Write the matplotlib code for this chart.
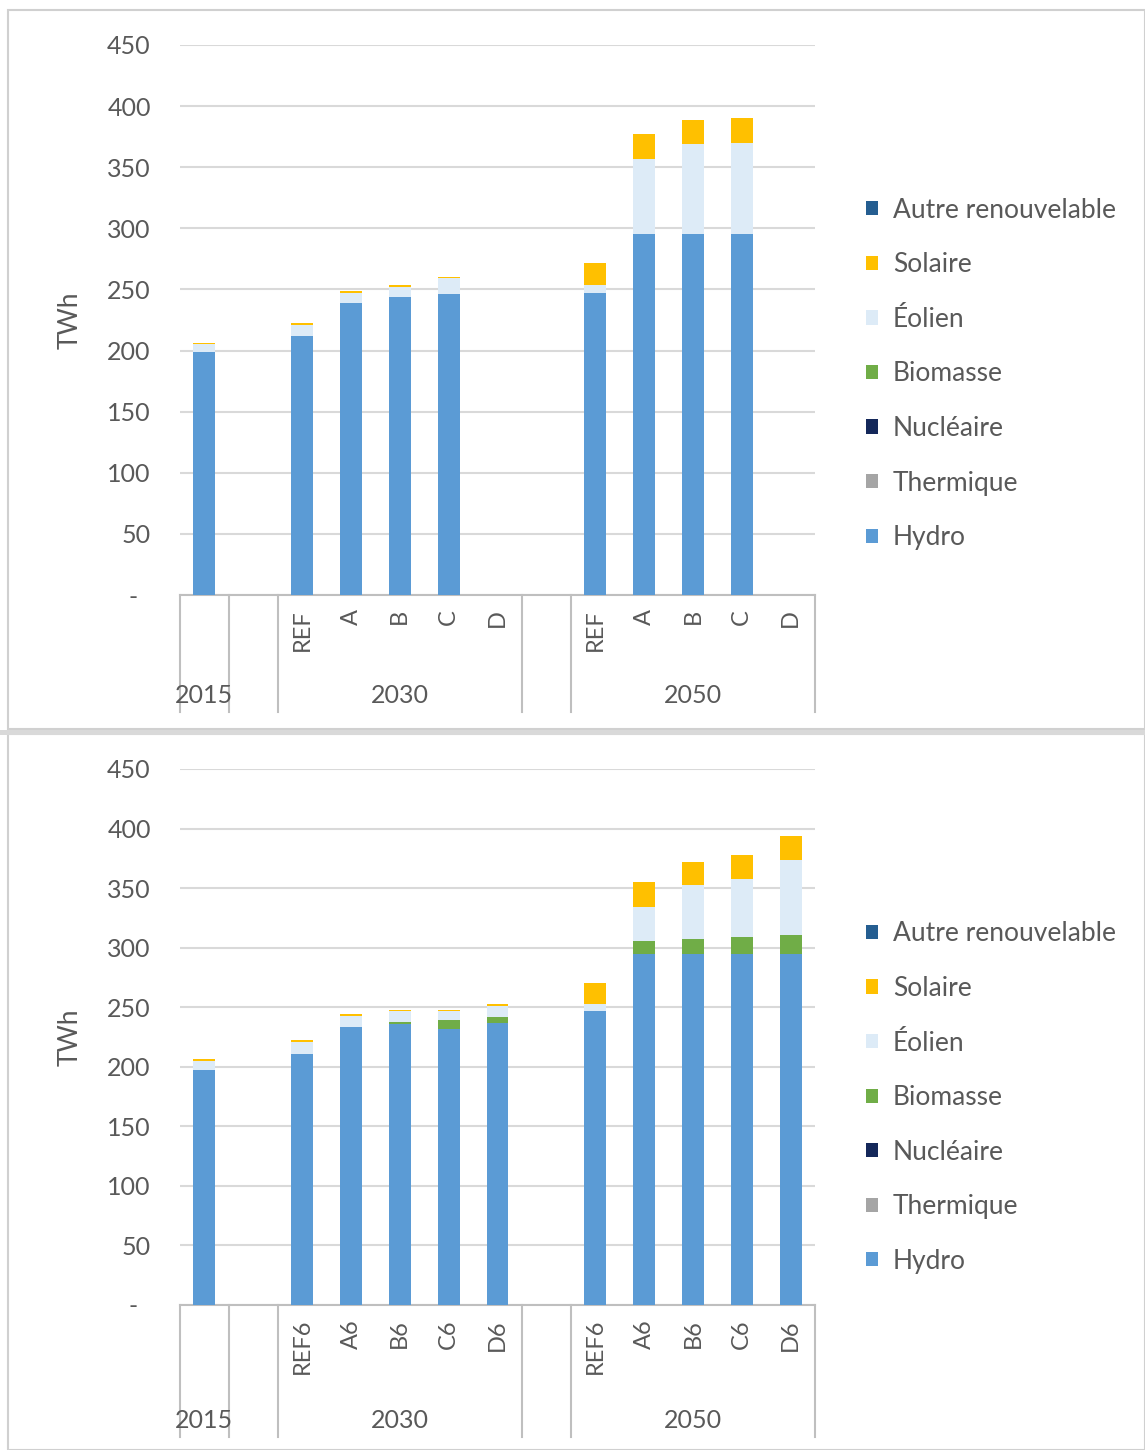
import numpy as np
import matplotlib.pyplot as plt
from matplotlib.transforms import blended_transform_factory
from matplotlib.patches import Rectangle

plt.rcParams["font.family"] = ["Lato", "DejaVu Sans"]

# Slots: 2015, gap, 2030 scenarios, gap, 2050 scenarios
labels_top = ["", "", "REF", "A", "B", "C", "D", "", "REF", "A", "B", "C", "D"]
labels_bot = ["", "", "REF6", "A6", "B6", "C6", "D6", "", "REF6", "A6", "B6", "C6", "D6"]
years = ["2015", "2030", "2050"]

series = ["Hydro", "Thermique", "Nucléaire", "Biomasse", "Éolien", "Solaire", "Autre renouvelable"]
colors = ["#5B9BD5", "#A5A5A5", "#14285A", "#70AD47", "#DDEBF7", "#FFC000", "#255E91"]

# Top chart (TWh)
hydro_top    = [199, 0, 212, 239, 244, 246.5, 0, 0, 247, 295, 295, 295, 0]
thermo_top   = [0] * 13
nucl_top     = [0] * 13
bio_top      = [0] * 13
eolien_top   = [6, 0, 9, 8, 8, 12.5, 0, 0, 7, 62, 74, 75, 0]
solaire_top  = [1.5, 0, 1.5, 2, 1.5, 1.5, 0, 0, 18, 20, 20, 20, 0]
autre_top    = [0] * 13

# Bottom chart (TWh)
hydro_bot    = [197, 0, 211, 233, 236, 231.5, 236.5, 0, 247, 295, 295, 295, 295]
thermo_bot   = [0] * 13
nucl_bot     = [0] * 13
bio_bot      = [0, 0, 0, 0, 1.5, 7.5, 5, 0, 0, 11, 12, 14, 16]
eolien_bot   = [8, 0, 10, 9.5, 9, 7.5, 9.5, 0, 6, 28, 46, 49, 63]
solaire_bot  = [1.5, 0, 1.5, 1.5, 1.5, 1.5, 1.5, 0, 17, 21, 19, 20, 20]
autre_bot    = [0] * 13

top_data = [hydro_top, thermo_top, nucl_top, bio_top, eolien_top, solaire_top, autre_top]
bot_data = [hydro_bot, thermo_bot, nucl_bot, bio_bot, eolien_bot, solaire_bot, autre_bot]

fig = plt.figure(figsize=(11.45, 14.5), dpi=100)
W, H = 1145, 1450

# panel frames
for (y0, y1) in [(10, 729), (734, 1450)]:
    fig.patches.append(Rectangle((8 / W, 1 - y1 / H), (W - 8) / W, (y1 - y0) / H,
                                 transform=fig.transFigure, fill=False,
                                 edgecolor="#D0D0D0", lw=1.5))
fig.patches.append(Rectangle((0, 1 - 735 / H), 1, 5 / H, transform=fig.transFigure,
                             facecolor="#D9D9D9", edgecolor="none"))

text_col = "#595959"


def draw(ax, data, sublabels, h_px, depth_px, year_px, leg_y):
    x = np.arange(len(sublabels))
    bottom = np.zeros(len(sublabels))
    handles = []
    for name, vals, c in zip(series, data, colors):
        v = np.array(vals, dtype=float)
        h = ax.bar(x, v, 0.45, bottom=bottom, color=c, label=name, zorder=3)
        handles.append(h)
        bottom += v
    ax.set_xlim(-0.5, len(sublabels) - 0.5)
    ax.set_ylim(0, 450)
    ax.set_yticks(range(0, 451, 50))
    ax.set_yticklabels(["-  "] + [str(v) for v in range(50, 451, 50)])
    ax.grid(axis="y", color="#D9D9D9", lw=1.5, zorder=0)
    for s in ["top", "right", "left"]:
        ax.spines[s].set_visible(False)
    ax.spines["bottom"].set_color("#BFBFBF")
    ax.spines["bottom"].set_linewidth(1.5)
    ax.tick_params(axis="y", length=0, pad=21, labelsize=18, labelcolor=text_col)
    ax.set_xticks(x)
    ax.set_xticklabels(sublabels, rotation=90, fontsize=17, color=text_col)
    ax.tick_params(axis="x", length=0, pad=10)
    ax.set_ylabel("TWh", fontsize=19, color=text_col)
    ax.yaxis.set_label_coords(-97 / 635, 0.5)

    tr = blended_transform_factory(ax.transData, ax.transAxes)
    for xb in [-0.5, 0.5, 1.5, 6.5, 7.5, 12.5]:
        ax.plot([xb, xb], [0, -depth_px / h_px], transform=tr, color="#BFBFBF",
                lw=1.5, clip_on=False)
    for xc, yr in zip([0, 4, 10], years):
        ax.text(xc, -year_px / h_px, yr, transform=tr, ha="center", va="center",
                fontsize=18, color=text_col)

    ax.legend(handles[::-1], series[::-1], loc="center left",
              bbox_to_anchor=(1.043, leg_y), frameon=False, fontsize=19,
              labelcolor=text_col, handlelength=0.45, handleheight=0.45,
              handletextpad=0.57, labelspacing=1.12)


ax1 = fig.add_axes([180 / W, 1 - 595 / H, 635 / W, 550 / H])
draw(ax1, top_data, labels_top, 550, 117, 100, 0.402)
ax2 = fig.add_axes([180 / W, 1 - 1305 / H, 635 / W, 536 / H])
draw(ax2, bot_data, labels_bot, 536, 132, 115, 0.387)

fig.savefig("out.png", dpi=100)
